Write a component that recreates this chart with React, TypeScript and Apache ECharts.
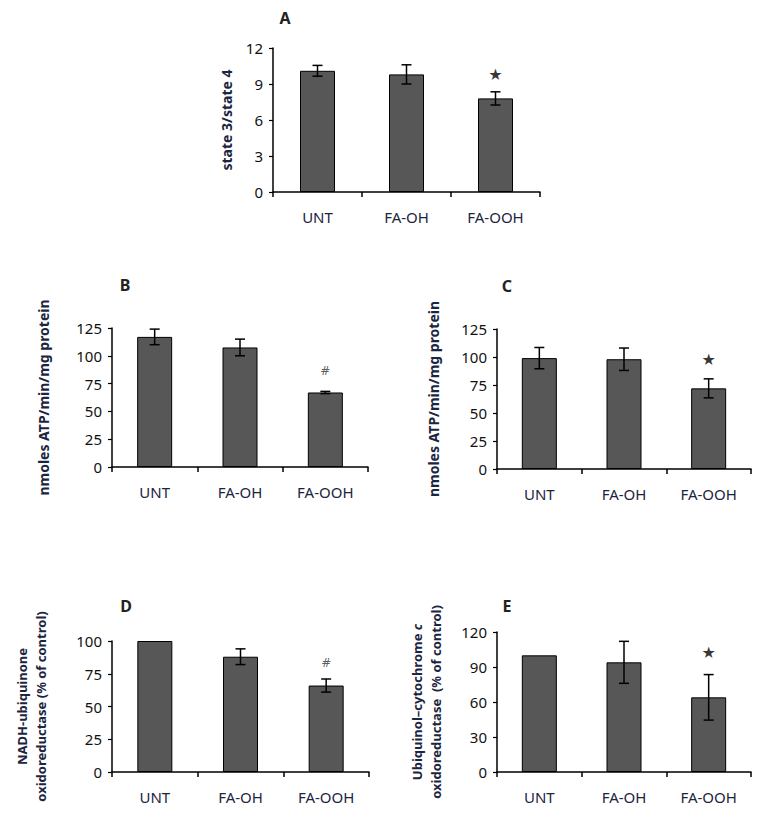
import React, { useEffect, useRef } from 'react';
import * as echarts from 'echarts';

const categories = ['UNT', 'FA-OH', 'FA-OOH'];

const meanA = [10.1, 9.8, 7.8];
const errA = [0.45, 0.8, 0.55];
const meanB = [117, 107.5, 67];
const errB = [7, 7.5, 1];
const meanC = [99, 98, 72];
const errC = [9.5, 10, 8.5];
const meanD = [100, 88, 66];
const errD = [0, 6, 5];
const meanE = [100, 94, 64];
const errE = [0, 18, 19.5];

const yMax = [12, 125, 125, 100, 120];
const yInterval = [3, 25, 25, 25, 30];

const panelLetters = ['A', 'B', 'C', 'D', 'E'];
const yTitles = [
  'state 3/state 4',
  'nmoles ATP/min/mg protein',
  'nmoles ATP/min/mg protein',
  'NADH-ubiquinone\noxidoreductase (% of control)',
  'Ubiquinol\u2013cytochrome {i|c}\noxidoreductase  (% of control)',
];
const sigLabels = ['\u2605', '#', '\u2605', '#', '\u2605'];
const sigValues = [9.8, 86, 97.5, 83, 102.5];

const means = [meanA, meanB, meanC, meanD, meanE];
const errs = [errA, errB, errC, errD, errE];

// layout (pixels)
const grids = [
  { left: 273, top: 48, width: 267, height: 144 },
  { left: 112, top: 328, width: 256, height: 139 },
  { left: 497, top: 329, width: 254, height: 140 },
  { left: 112, top: 641, width: 257, height: 131 },
  { left: 497, top: 632, width: 254, height: 140 },
];
const letterPos = [
  [285, 18],
  [125, 285],
  [507, 286],
  [126, 606],
  [507, 606],
];
const titleX = [226, 43, 433, 31, 426];
const titleSize = [14, 14, 14, 13, 13];

const FONT = '"Noto Sans", "DejaVu Sans", sans-serif';
const TICK_COLOR = '#111';
const TITLE_COLOR = '#1c2540';

export default function App() {
  const ref = useRef<HTMLDivElement>(null);
  useEffect(() => {
    if (!ref.current) return;
    const chart = echarts.init(ref.current, undefined, { renderer: 'svg' });

    const series: any[] = [];
    means.forEach((m, i) => {
      series.push({
        type: 'bar',
        xAxisIndex: i,
        yAxisIndex: i,
        data: m,
        barWidth: 35,
        itemStyle: { color: '#575757', borderColor: '#000', borderWidth: 1 },
        silent: true,
      });
      series.push({
        type: 'custom',
        xAxisIndex: i,
        yAxisIndex: i,
        encode: { x: 0, y: 1 },
        data: m.map((v, j) => [j, v, errs[i][j]]),
        z: 5,
        silent: true,
        renderItem: (params: any, api: any) => {
          const x = api.value(0);
          const v = api.value(1);
          const e = api.value(2);
          if (!e) return null;
          const top = api.coord([x, v + e]);
          const bot = api.coord([x, v - e]);
          const hw = 5;
          const st = { stroke: '#000', lineWidth: 1.5 };
          return {
            type: 'group',
            children: [
              { type: 'line', shape: { x1: top[0], y1: top[1], x2: bot[0], y2: bot[1] }, style: st },
              { type: 'line', shape: { x1: top[0] - hw, y1: top[1], x2: top[0] + hw, y2: top[1] }, style: st },
              { type: 'line', shape: { x1: bot[0] - hw, y1: bot[1], x2: bot[0] + hw, y2: bot[1] }, style: st },
            ],
          };
        },
      });
      series.push({
        type: 'scatter',
        xAxisIndex: i,
        yAxisIndex: i,
        symbolSize: 0,
        silent: true,
        data: [[2, sigValues[i]]],
        label: {
          show: true,
          position: 'inside',
          formatter: sigLabels[i],
          fontSize: sigLabels[i] === '#' ? 12 : 16,
          color: sigLabels[i] === '#' ? '#333' : '#000',
          fontFamily: '"DejaVu Sans", sans-serif',
        },
      });
    });

    const graphic: any[] = [];
    panelLetters.forEach((l, i) => {
      graphic.push({
        type: 'text',
        x: letterPos[i][0],
        y: letterPos[i][1],
        style: {
          text: l,
          fontSize: 16,
          fontWeight: 'bold',
          fontFamily: FONT,
          fill: '#222',
          align: 'center',
          verticalAlign: 'middle',
          textAlign: 'center',
          textVerticalAlign: 'middle',
        },
      });
      const g = grids[i];
      graphic.push({
        type: 'text',
        x: titleX[i],
        y: g.top + g.height / 2,
        rotation: Math.PI / 2,
        style: {
          text: yTitles[i],
          fontSize: titleSize[i],
          fontWeight: 'bold',
          fontFamily: FONT,
          fill: TITLE_COLOR,
          align: 'center',
          verticalAlign: 'middle',
          textAlign: 'center',
          textVerticalAlign: 'middle',
          lineHeight: 19,
          rich: {
            i: {
              fontSize: titleSize[i],
              fontWeight: 'bold',
              fontStyle: 'italic',
              fontFamily: FONT,
              fill: TITLE_COLOR,
              lineHeight: 19,
            },
          },
        },
      });
    });

    const option: any = {
      animation: false,
      backgroundColor: '#fff',
      grid: grids.map((g) => ({ ...g, containLabel: false })),
      xAxis: grids.map((_, i) => ({
        type: 'category',
        gridIndex: i,
        data: categories,
        axisLine: { lineStyle: { color: '#000', width: 1.5 } },
        axisTick: { show: true, length: 5, lineStyle: { color: '#000', width: 1.5 } },
        axisLabel: { fontSize: 15, color: TITLE_COLOR, fontFamily: FONT, margin: 17 },
      })),
      yAxis: grids.map((_, i) => ({
        type: 'value',
        gridIndex: i,
        min: 0,
        max: yMax[i],
        interval: yInterval[i],
        splitLine: { show: false },
        axisLine: { show: true, lineStyle: { color: '#000', width: 1.5 } },
        axisTick: { show: true, length: 4, lineStyle: { color: '#000', width: 1.2 } },
        axisLabel: { fontSize: 15, color: TICK_COLOR, fontFamily: FONT, margin: 10 },
      })),
      series,
      graphic,
    };
    chart.setOption(option);
    return () => chart.dispose();
  }, []);
  return (
    <div
      ref={ref}
      style={{ position: 'absolute', left: 0, top: 0, width: 760, height: 825 }}
    />
  );
}
